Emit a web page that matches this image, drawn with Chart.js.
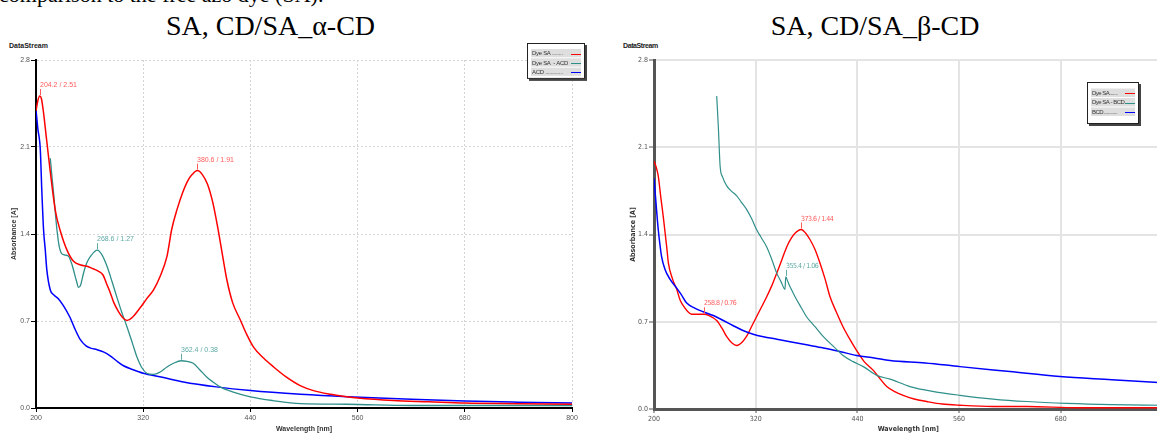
<!doctype html>
<html lang="en">
<head>
<meta charset="utf-8">
<title>SA, CD/SA UV-Vis spectra</title>
<script src="https://cdn.jsdelivr.net/npm/chart.js@4/dist/chart.umd.min.js"></script>
<style>
	body { margin:0; width:1157px; height:434px; overflow:hidden; background:#fff; position:relative; }
	.cut { position:absolute; left:-1px; top:-16px; font:22px/22px 'Liberation Serif', serif; white-space:nowrap; color:#000; }
	.title { position:absolute; top:12px; font:28px/28px 'Liberation Serif', serif; text-align:center; color:#000; white-space:nowrap; }
	.ds { position:absolute; top:42px; font:bold 7px/8px 'Liberation Sans', sans-serif; color:#222; }
	canvas { position:absolute; top:0; }
	#cA { left:0; }
	#cB { left:600px; }
</style>
</head>
<body>
<div class="cut">comparison to the free azo dye (SA).</div>
<div class="title" style="left:0; width:541px;">SA, CD/SA_α-CD</div>
<div class="title" style="left:575px; width:600px;">SA, CD/SA_β-CD</div>
<div class="ds" style="left:9px;">DataStream</div>
<div class="ds" style="left:623px; letter-spacing:-0.4px;">DataStream</div>
<canvas id="cA" width="590" height="434"></canvas>
<canvas id="cB" width="600" height="434"></canvas>

<script>
// ---- axis ticks ----
var waveTicks = [200, 320, 440, 560, 680, 800];
var absTicks = [0, 0.7, 1.4, 2.1, 2.8];

// ---- alpha-CD panel ----
var waveSA_a = [200, 202, 204.2, 206, 208, 212, 216, 221.6, 227, 234.7, 242, 250, 257, 264, 270, 275, 279, 283, 287, 292, 298, 302, 308, 317, 324, 331.6, 339, 346.6, 352, 358, 364, 370, 375, 380.6, 386, 392, 398, 404, 409, 413.7, 420, 428.6, 436, 443.5, 455, 466, 480, 495.7, 510.6, 530, 548, 560, 600, 640, 680, 740, 800];
var absSA_a  = [2.39, 2.47, 2.51, 2.49, 2.40, 2.15, 1.90, 1.59, 1.43, 1.27, 1.18, 1.15, 1.14, 1.12, 1.10, 1.07, 1.00, 0.93, 0.85, 0.78, 0.72, 0.705, 0.73, 0.81, 0.88, 0.95, 1.06, 1.22, 1.44, 1.60, 1.73, 1.83, 1.88, 1.91, 1.88, 1.80, 1.65, 1.43, 1.22, 1.03, 0.85, 0.71, 0.59, 0.49, 0.40, 0.33, 0.25, 0.18, 0.14, 0.11, 0.09, 0.08, 0.06, 0.05, 0.04, 0.035, 0.03];

var waveSAACD = [216, 218, 219.7, 223.5, 226, 229, 233, 236.5, 240, 242, 245, 247.7, 250, 253, 257, 262, 268.6, 274, 279.5, 285, 290.6, 296, 302, 308, 313, 318, 324, 331.6, 339, 346.6, 354, 362.4, 369, 376, 383, 391, 398, 406, 420, 440, 465, 496, 548, 620, 700, 800];
var absSAACD  = [2.01, 1.85, 1.73, 1.43, 1.30, 1.24, 1.23, 1.22, 1.16, 1.11, 1.03, 0.97, 0.99, 1.08, 1.17, 1.23, 1.27, 1.23, 1.14, 1.02, 0.89, 0.77, 0.65, 0.52, 0.41, 0.33, 0.28, 0.27, 0.29, 0.33, 0.36, 0.38, 0.375, 0.36, 0.31, 0.25, 0.21, 0.17, 0.13, 0.09, 0.06, 0.035, 0.03, 0.02, 0.02, 0.02];

var waveACD = [200, 202, 204.8, 206.5, 208.5, 210.4, 212, 216, 220, 225, 231, 238, 244, 249.6, 256, 262, 268, 276, 283, 290, 298, 308, 320, 340, 365, 402, 440, 496, 548, 620, 680, 740, 800];
var absACD  = [2.40, 2.25, 2.08, 1.75, 1.43, 1.27, 1.12, 0.95, 0.91, 0.88, 0.82, 0.73, 0.63, 0.55, 0.50, 0.48, 0.47, 0.45, 0.42, 0.38, 0.34, 0.31, 0.28, 0.25, 0.21, 0.17, 0.14, 0.11, 0.09, 0.07, 0.056, 0.047, 0.04];

var peakWaveA = [204.2, 380.6, 268.6, 362.4];
var peakAbsA  = [2.51, 1.91, 1.27, 0.38];
var peakSetA  = [0, 0, 1, 1];

// ---- beta-CD panel ----
var waveSA_b = [200, 203, 205, 208, 211, 215, 217, 222, 226.8, 231, 236.6, 240, 244.5, 250, 258.8, 265, 274, 280, 285.8, 292, 297.6, 303, 309, 315, 321, 327, 333, 339, 344.8, 351, 356.6, 362, 366.4, 373.6, 379, 384, 390, 395.9, 402, 407.7, 415, 423, 431, 439, 448, 458.8, 467, 474.6, 484, 494, 507, 521.8, 540, 561, 600, 640, 700, 800];
var absSA_b  = [1.99, 1.93, 1.87, 1.70, 1.54, 1.30, 1.17, 1.04, 0.96, 0.87, 0.81, 0.78, 0.76, 0.76, 0.76, 0.75, 0.71, 0.65, 0.58, 0.53, 0.51, 0.53, 0.58, 0.66, 0.74, 0.82, 0.90, 0.99, 1.09, 1.20, 1.30, 1.37, 1.41, 1.44, 1.41, 1.36, 1.28, 1.17, 1.04, 0.90, 0.78, 0.66, 0.56, 0.47, 0.38, 0.31, 0.24, 0.18, 0.14, 0.11, 0.08, 0.06, 0.04, 0.03, 0.02, 0.02, 0.01, 0.01];

var waveSABCD = [274, 276, 278, 281, 285.8, 291, 297.6, 303, 309.4, 315, 321, 327, 333, 339, 344.8, 350, 354.6, 355.4, 358, 362, 368, 374, 380, 390, 399.8, 412, 423, 435, 447, 462.8, 478.5, 502, 530, 561, 600, 640, 687, 740, 800];
var absSABCD  = [2.51, 2.25, 1.95, 1.86, 1.79, 1.75, 1.71, 1.66, 1.60, 1.53, 1.44, 1.37, 1.30, 1.20, 1.09, 1.02, 0.96, 1.06, 1.02, 0.96, 0.88, 0.81, 0.74, 0.66, 0.58, 0.50, 0.43, 0.38, 0.34, 0.27, 0.24, 0.18, 0.14, 0.11, 0.08, 0.06, 0.045, 0.035, 0.03];

var waveBCD = [200, 203, 205, 207, 209, 213, 219, 226.8, 232, 238.6, 248, 258, 270, 281.8, 293, 305, 317, 329, 345, 360.5, 380, 399.8, 420, 439, 460, 478.5, 520, 561, 620, 679, 740, 800];
var absBCD  = [1.85, 1.60, 1.44, 1.32, 1.22, 1.12, 1.04, 0.97, 0.92, 0.85, 0.81, 0.78, 0.75, 0.71, 0.67, 0.63, 0.60, 0.58, 0.56, 0.54, 0.515, 0.49, 0.46, 0.43, 0.41, 0.39, 0.37, 0.34, 0.30, 0.26, 0.235, 0.21];

var peakWaveB = [373.6, 258.8, 355.4];
var peakAbsB  = [1.44, 0.76, 1.06];
var peakSetB  = [0, 0, 1];

var RED = '#ff0000', TEAL = '#2f8f8a', BLUE = '#0000ff';
var LABEL_COLORS = ['#ff5a5a', '#5ea9a5'];

function pts(w, a) { return w.map(function(v, i) { return { x: v, y: a[i] }; }); }

function ds(label, w, a, color, width) {
	return { label: label, data: pts(w, a), borderColor: color, backgroundColor: color,
		borderWidth: width, pointRadius: 0, cubicInterpolationMode: 'monotone', fill: false };
}

// small peak markers "x / y" above the curve
var peakPlugin = {
	id: 'peaks',
	afterDatasetsDraw: function(chart, args, opts) {
		var ctx = chart.ctx, xs = chart.scales.x, ys = chart.scales.y;
		ctx.save();
		ctx.font = opts.font;
		ctx.letterSpacing = opts.spacing || '0px';
		ctx.textAlign = 'left';
		ctx.textBaseline = 'alphabetic';
		opts.wave.forEach(function(w, i) {
			var px = Math.round(xs.getPixelForValue(w)) + 0.5, py = ys.getPixelForValue(opts.abs[i]);
			var c = LABEL_COLORS[opts.set[i]];
			ctx.strokeStyle = c; ctx.lineWidth = 1;
			ctx.beginPath(); ctx.moveTo(px, py - 1); ctx.lineTo(px, py - 7); ctx.stroke();
			ctx.fillStyle = c;
			ctx.fillText(w.toFixed(1) + ' / ' + opts.abs[i].toFixed(2), px - 0.5, py - 9);
		});
		ctx.restore();
	}
};

// boxed legend like the instrument software
var boxPlugin = {
	id: 'legendBox',
	afterDraw: function(chart, args, o) {
		var ctx = chart.ctx, h = o.padTop + o.rows.length * o.rowH + o.padBottom;
		ctx.save();
		ctx.fillStyle = '#444';
		ctx.fillRect(o.x + 2, o.y + 2, o.w, h);
		ctx.fillStyle = '#fff';
		ctx.fillRect(o.x, o.y, o.w, h);
		ctx.strokeStyle = '#222'; ctx.lineWidth = 1;
		ctx.strokeRect(o.x + 0.5, o.y + 0.5, o.w - 1, h - 1);
		ctx.font = o.font;
		ctx.letterSpacing = o.spacing;
		ctx.textBaseline = 'middle';
		o.rows.forEach(function(r, i) {
			var ry = o.y + o.padTop + i * o.rowH;
			ctx.fillStyle = '#dedede';
			ctx.fillRect(o.x + 4, ry, o.w - 8, o.rowH - 1);
			ctx.fillStyle = '#333';
			ctx.fillText(r[0], o.x + 5, ry + o.rowH / 2);
			ctx.strokeStyle = r[1]; ctx.lineWidth = 1;
			ctx.beginPath();
			ctx.moveTo(o.x + o.w - 14, Math.round(ry + o.rowH / 2) + 0.5);
			ctx.lineTo(o.x + o.w - 4, Math.round(ry + o.rowH / 2) + 0.5);
			ctx.stroke();
		});
		ctx.restore();
	}
};

function makeScales(s) {
	return {
		x: {
			type: 'linear', min: 200, max: 800,
			afterBuildTicks: function(sc) { sc.ticks = waveTicks.map(function(v) { return { value: v }; }); },
			afterFit: function(sc) { sc.height = s.xH; },
			grid: { color: s.gridColor, lineWidth: s.gridWidth, tickLength: 4, tickColor: s.axisColor, tickWidth: 1 },
			border: { color: s.axisColor, width: s.axisWidth, dash: s.dash },
			ticks: { color: '#555', font: { family: s.family, size: 7 }, padding: 2, maxRotation: 0, autoSkip: false },
			title: { display: true, text: 'Wavelength [nm]', color: '#333', font: { family: s.family, size: 7, weight: 'bold' }, padding: { top: 0, bottom: 1 } }
		},
		y: {
			type: 'linear', min: 0, max: 2.8,
			afterBuildTicks: function(sc) { sc.ticks = absTicks.map(function(v) { return { value: v }; }); },
			afterFit: function(sc) { sc.width = s.yW; },
			grid: { color: s.gridColor, lineWidth: s.gridWidth, tickLength: 5, tickColor: s.axisColor, tickWidth: 1 },
			border: { color: s.axisColor, width: s.axisWidth, dash: s.dash },
			ticks: { color: '#555', font: { family: s.family, size: 7 }, padding: 1, callback: function(v) { return v.toFixed(1); } },
			title: { display: true, text: 'Absorbance [A]', color: '#333', font: { family: s.family, size: 7, weight: 'bold' }, padding: { top: s.yTitlePad, bottom: 0 } }
		}
	};
}

Chart.defaults.animation = false;

new Chart(document.getElementById('cA'), {
	type: 'line',
	data: { datasets: [
		ds('Dye SA', waveSA_a, absSA_a, RED, 1.5),
		ds('Dye SA - ACD', waveSAACD, absSAACD, TEAL, 1.3),
		ds('ACD', waveACD, absACD, BLUE, 1.5)
	] },
	options: {
		responsive: false,
		layout: { padding: { top: 60, right: 18, bottom: 0, left: 0 } },
		scales: makeScales({ xH: 26, yW: 36, gridColor: '#d4d4d4', gridWidth: 1, axisColor: '#000', axisWidth: 2,
			dash: [2, 2], family: "'Liberation Sans', sans-serif", yTitlePad: 10 }),
		plugins: {
			legend: { display: false },
			tooltip: { enabled: false },
			peaks: { wave: peakWaveA, abs: peakAbsA, set: peakSetA, font: "7px 'Liberation Sans', sans-serif" },
			legendBox: { x: 527, y: 43, w: 58, padTop: 6, padBottom: 2, rowH: 9.3, spacing: '-0.3px',
				font: "6px 'Liberation Sans', sans-serif",
				rows: [['Dye SA ........', RED], ['Dye SA  - ACD', TEAL], ['ACD .............', BLUE]] }
		}
	},
	plugins: [peakPlugin, boxPlugin]
});

new Chart(document.getElementById('cB'), {
	type: 'line',
	data: { datasets: [
		ds('Dye SA - BCD', waveSABCD, absSABCD, TEAL, 1.2),
		ds('BCD', waveBCD, absBCD, BLUE, 1.5),
		ds('Dye SA', waveSA_b, absSA_b, RED, 1.4)
	] },
	options: {
		responsive: false,
		layout: { padding: { top: 60, right: 37.5, bottom: 0, left: 0 } },
		scales: makeScales({ xH: 25, yW: 54, gridColor: '#e4e4e4', gridWidth: 2, axisColor: '#555', axisWidth: 3,
			dash: [], family: "'Liberation Sans Narrow', 'DejaVu Sans Condensed', sans-serif", yTitlePad: 29 }),
		plugins: {
			legend: { display: false },
			tooltip: { enabled: false },
			peaks: { wave: peakWaveB, abs: peakAbsB, set: peakSetB, spacing: '-0.5px',
				font: "7px 'Liberation Sans Narrow', 'DejaVu Sans Condensed', sans-serif" },
			legendBox: { x: 487, y: 82, w: 52, padTop: 6.5, padBottom: 7, rowH: 9.5, spacing: '-0.5px',
				font: "6px 'Liberation Sans', sans-serif",
				rows: [['Dye SA.......', RED], ['Dye SA - BCD', TEAL], ['BCD............', BLUE]] }
		}
	},
	plugins: [peakPlugin, boxPlugin]
});
</script>
</body>
</html>
